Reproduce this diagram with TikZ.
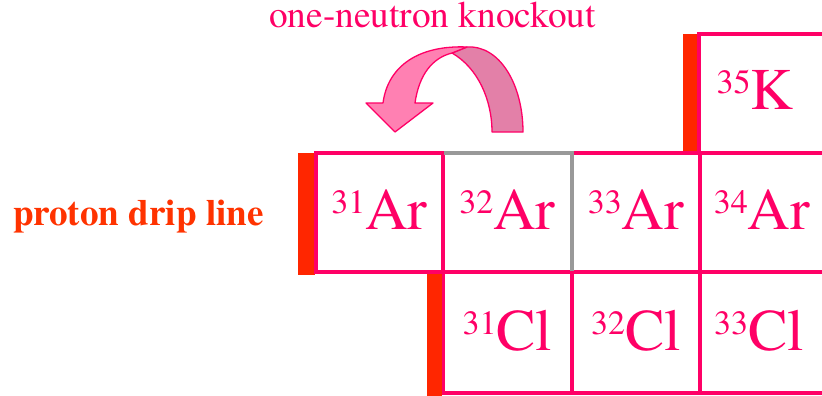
\documentclass[tikz,border=0pt]{standalone}
\usepackage{fontspec}
\IfFontExistsTF{texgyretermes-regular.otf}{%
  \setmainfont{texgyretermes}[Extension=.otf,UprightFont=*-regular,BoldFont=*-bold,ItalicFont=*-italic,BoldItalicFont=*-bolditalic]}{%
  \setmainfont{Liberation Serif}}
\definecolor{pk}{HTML}{FF0066}
\definecolor{rbar}{HTML}{FF2600}
\definecolor{drip}{HTML}{FF3300}
\definecolor{gline}{HTML}{999999}
\definecolor{afront}{HTML}{FF80B2}
\definecolor{aback}{HTML}{E380A8}
\newcommand\isolab[2]{\raisebox{16pt}{\fontsize{34}{34}\selectfont #1}{\fontsize{59}{59}\selectfont #2}}
\begin{document}
\begin{tikzpicture}[x=1pt,y=-1pt,
  cell/.style={draw=pk,line width=3.2pt,inner sep=0pt,minimum width=128pt,minimum height=119pt},
  lab/.style={text=pk,inner sep=0pt,anchor=base},
  redbar/.style={fill=rbar},
  grayedge/.style={draw=gline,line width=3.6pt},
  arrowpart/.style={draw=pk,line width=1.3pt,line join=round}]
\useasboundingbox (0,0) rectangle (822,396);
% red bars
\fill[redbar] (298,153) rectangle (315,275);
\fill[redbar] (427,273) rectangle (442,396);
\fill[redbar] (683,34) rectangle (698,153);
% cells
\node[cell,minimum width=127pt] (a31) at (379.5,212.5) {};
\node[inner sep=0pt,minimum width=129pt,minimum height=119pt] (a32) at (507.5,212.5) {};
\node[cell] (a33) at (636,212.5) {};
\node[cell] (a34) at (764,212.5) {};
\node[cell] (k35) at (763,93.5) {};
\node[cell,minimum height=121pt] (c31) at (507.5,332.5) {};
\node[cell,minimum height=121pt] (c32) at (636,332.5) {};
\node[cell,minimum height=121pt] (c33) at (764,332.5) {};
\draw[grayedge] ([xshift=1.6pt]a32.north west) -- (a32.north east) -- ([yshift=1.6pt]a32.south east);
% labels
\node[lab] (la31) at ([yshift=-16.5pt]a31.center) {\isolab{31}{Ar}};
\node[lab] (la32) at ([yshift=-16.5pt]a32.center) {\isolab{32}{Ar}};
\node[lab] (la33) at ([yshift=-16.5pt]a33.center) {\isolab{33}{Ar}};
\node[lab] (la34) at ([yshift=-16.5pt,xshift=-2pt]a34.center) {\isolab{34}{Ar}};
\node[lab] (lk35) at ([yshift=-15.5pt,xshift=-8pt]k35.center) {\isolab{35}{K}};
\node[lab] (lc31) at ([yshift=-17.5pt]c31.center) {\isolab{31}{Cl}};
\node[lab] (lc32) at ([yshift=-17.5pt]c32.center) {\isolab{32}{Cl}};
\node[lab] (lc33) at ([yshift=-17.5pt,xshift=-5pt]c33.center) {\isolab{33}{Cl}};
% texts
\node[lab,font=\fontsize{37.3}{37.3}\selectfont] (title) at (432.5,28) {one-neutron knockout};
\node[inner sep=0pt,anchor=base west,text=drip,font=\fontsize{37.1}{37.1}\selectfont\bfseries] (drip) at (13,225) {proton drip line};
% curved arrow
\filldraw[arrowpart,fill=aback] (452,53) -- (467,47) .. controls (500,45) and (523,85) .. (523,132) -- (492,132) .. controls (492,100) and (478,68) .. (452,53) -- cycle;
\filldraw[arrowpart,fill=afront] (366,103) -- (383,103) .. controls (388,65) and (420,45) .. (467,47) -- (452,53) .. controls (432,58) and (419,75) .. (415,103) -- (433,103) -- (395,132) -- cycle;
\end{tikzpicture}
\end{document}
